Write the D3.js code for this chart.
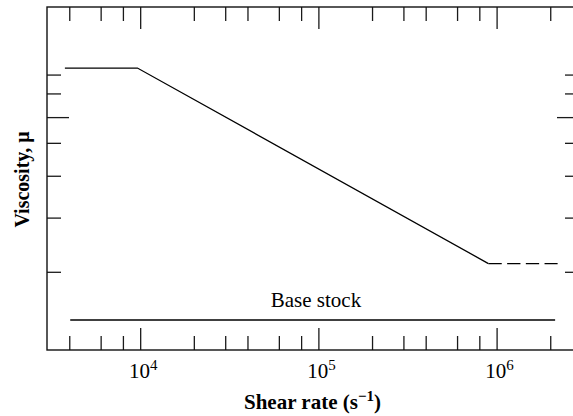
<!DOCTYPE html>
<html>
<head>
<meta charset="utf-8">
<script src="https://cdn.jsdelivr.net/npm/d3@7"></script>
<style>
  html, body { margin: 0; padding: 0; background: #fff; }
  svg { display: block; }
  text { font-family: "Liberation Serif", "Times New Roman", serif; fill: #000; }
</style>
</head>
<body>
<svg id="chart" width="573" height="416"></svg>
<script>
// Shear rate axis (log scale), ticks and labels
const xMajorTicks = [1e4, 1e5, 1e6];
const xMajorExponents = ["4", "5", "6"];
const xMinorTicks = [4e3, 6e3, 8e3, 2e4, 3e4, 4e4, 6e4, 8e4, 2e5, 3e5, 4e5, 6e5, 8e5, 2e6];

// Viscosity axis (relative units, no labels)
const yMajorTicks = [67.9];
const yMinorTicks = [80.3, 74.8, 60.4, 50.8, 38.6, 22.8];

// Thickened oil: Newtonian plateau, shear-thinning region, second plateau (dashed)
const oilShear = [3.78e3, 9.65e3, 9.0e5];
const oilViscosity = [82.2, 82.2, 25.2];
const oilExtShear = [9.0e5, 2.2e6];
const oilExtViscosity = [25.2, 25.2];

// Base stock: constant viscosity
const baseShear = [4.05e3, 2.13e6];
const baseViscosity = [8.75, 8.75];
const baseLabel = "Base stock";

const svg = d3.select("#chart");
const plotLeft = 47, plotRight = 579, plotTop = 7, plotBottom = 350;

const x = d3.scaleLog().domain([3000, 2.9e6]).range([plotLeft, plotRight]);
const y = d3.scaleLinear().domain([0, 100]).range([plotBottom, plotTop]);

const minorLen = 14, majorLen = 22;
const tickColor = "#1a1a1a";

function styleTicks(g) {
  g.select(".domain").remove();
  g.selectAll(".tick line").attr("stroke", tickColor).attr("stroke-width", 1.3);
}

// Bottom axis
svg.append("g").attr("transform", `translate(0,${plotBottom})`)
  .call(d3.axisBottom(x).tickValues(xMinorTicks).tickSizeInner(-minorLen).tickSizeOuter(0).tickFormat(""))
  .call(styleTicks);

const bottomMajor = svg.append("g").attr("transform", `translate(0,${plotBottom})`)
  .call(d3.axisBottom(x).tickValues(xMajorTicks).tickSizeInner(-majorLen).tickSizeOuter(0))
  .call(styleTicks);

bottomMajor.selectAll(".tick text")
  .attr("y", 27.5).attr("dy", null).attr("x", 2.5)
  .attr("font-size", 21)
  .attr("fill", "#000")
  .style("font-family", "'Liberation Serif', 'Times New Roman', serif")
  .each(function (d, i) {
    const t = d3.select(this);
    t.text(null);
    t.append("tspan").text("10");
    t.append("tspan").attr("dy", -7.5).attr("font-size", 15).text(xMajorExponents[i]);
  });

// Top axis (mirrored ticks)
svg.append("g").attr("transform", `translate(0,${plotTop})`)
  .call(d3.axisTop(x).tickValues(xMinorTicks).tickSizeInner(-minorLen).tickSizeOuter(0).tickFormat(""))
  .call(styleTicks);
svg.append("g").attr("transform", `translate(0,${plotTop})`)
  .call(d3.axisTop(x).tickValues(xMajorTicks).tickSizeInner(-majorLen).tickSizeOuter(0).tickFormat(""))
  .call(styleTicks);

// Left and right axes
svg.append("g").attr("transform", `translate(${plotLeft},0)`)
  .call(d3.axisLeft(y).tickValues(yMinorTicks).tickSizeInner(-minorLen).tickSizeOuter(0).tickFormat(""))
  .call(styleTicks);
svg.append("g").attr("transform", `translate(${plotLeft},0)`)
  .call(d3.axisLeft(y).tickValues(yMajorTicks).tickSizeInner(-majorLen).tickSizeOuter(0).tickFormat(""))
  .call(styleTicks);
svg.append("g").attr("transform", `translate(${plotRight},0)`)
  .call(d3.axisRight(y).tickValues(yMinorTicks).tickSizeInner(-minorLen).tickSizeOuter(0).tickFormat(""))
  .call(styleTicks);
svg.append("g").attr("transform", `translate(${plotRight},0)`)
  .call(d3.axisRight(y).tickValues(yMajorTicks).tickSizeInner(-majorLen).tickSizeOuter(0).tickFormat(""))
  .call(styleTicks);

// Plot frame
svg.append("rect")
  .attr("x", plotLeft).attr("y", plotTop)
  .attr("width", plotRight - plotLeft).attr("height", plotBottom - plotTop)
  .attr("fill", "none").attr("stroke", "#111").attr("stroke-width", 1.4);

const line = d3.line().x(d => x(d[0])).y(d => y(d[1]));

svg.append("path")
  .datum(d3.zip(oilShear, oilViscosity))
  .attr("d", line)
  .attr("fill", "none").attr("stroke", "#000").attr("stroke-width", 1.3);

svg.append("path")
  .datum(d3.zip(oilExtShear, oilExtViscosity))
  .attr("d", line)
  .attr("fill", "none").attr("stroke", "#000").attr("stroke-width", 1.3)
  .attr("stroke-dasharray", "13.3,5.4");

svg.append("path")
  .datum(d3.zip(baseShear, baseViscosity))
  .attr("d", line)
  .attr("fill", "none").attr("stroke", "#000").attr("stroke-width", 1.3);

svg.append("text")
  .attr("x", 316).attr("y", 306.5)
  .attr("text-anchor", "middle")
  .attr("font-size", 21)
  .text(baseLabel);

// Axis titles
const xTitle = svg.append("text")
  .attr("x", 312.5).attr("y", 409)
  .attr("text-anchor", "middle")
  .attr("font-size", 21)
  .attr("font-weight", "bold");
xTitle.append("tspan").text("Shear rate (s");
xTitle.append("tspan").attr("dy", -8).attr("font-size", 15).text("\u22121");
xTitle.append("tspan").attr("dy", 8).text(")");

svg.append("text")
  .attr("transform", "translate(29,179.5) rotate(-90)")
  .attr("text-anchor", "middle")
  .attr("font-size", 20)
  .attr("font-weight", "bold")
  .text("Viscosity, \u03bc");
</script>
</body>
</html>
